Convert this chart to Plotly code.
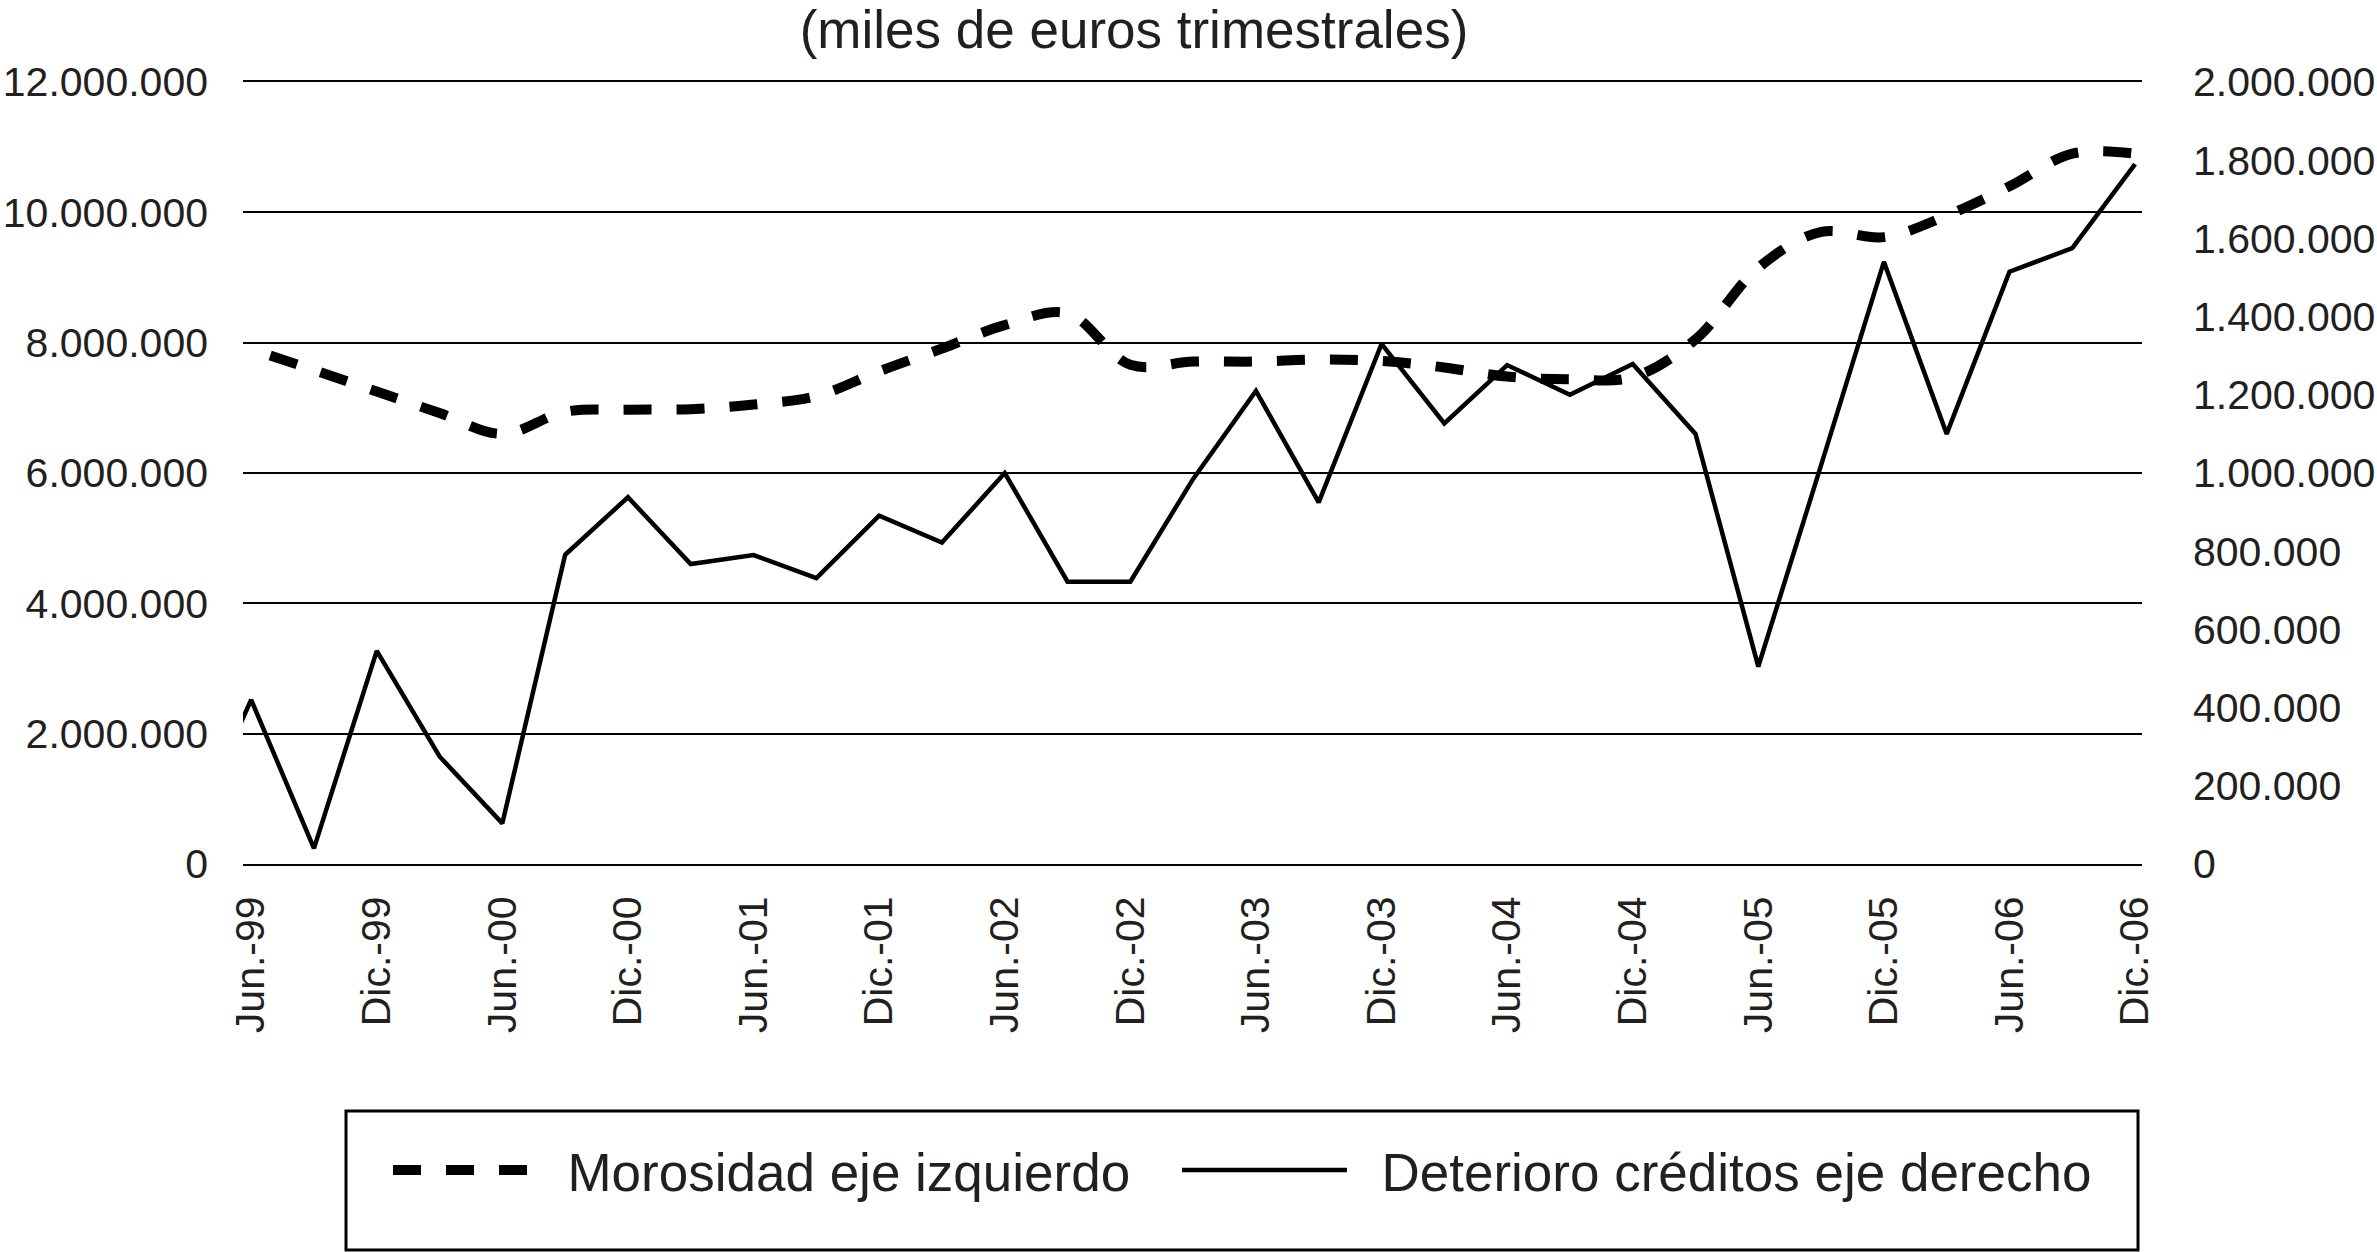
import plotly.graph_objects as go

quarters = [
    "Mar.-99", "Jun.-99", "Sep.-99", "Dic.-99",
    "Mar.-00", "Jun.-00", "Sep.-00", "Dic.-00",
    "Mar.-01", "Jun.-01", "Sep.-01", "Dic.-01",
    "Mar.-02", "Jun.-02", "Sep.-02", "Dic.-02",
    "Mar.-03", "Jun.-03", "Sep.-03", "Dic.-03",
    "Mar.-04", "Jun.-04", "Sep.-04", "Dic.-04",
    "Mar.-05", "Jun.-05", "Sep.-05", "Dic.-05",
    "Mar.-06", "Jun.-06", "Sep.-06", "Dic.-06",
]

tick_labels = [
    "Jun.-99", "Dic.-99", "Jun.-00", "Dic.-00", "Jun.-01", "Dic.-01",
    "Jun.-02", "Dic.-02", "Jun.-03", "Dic.-03", "Jun.-04", "Dic.-04",
    "Jun.-05", "Dic.-05", "Jun.-06", "Dic.-06",
]

# Morosidad (eje izquierdo), miles de euros
morosidad = [
    None, 7900000, 7580000, 7250000,
    6920000, 6600000, 6940000, 6970000,
    6980000, 7050000, 7180000, 7560000,
    7910000, 8270000, 8450000, 7660000,
    7710000, 7710000, 7740000, 7720000,
    7620000, 7480000, 7440000, 7470000,
    8050000, 9150000, 9700000, 9620000,
    9950000, 10400000, 10900000, 10900000,
]

# Deterioro créditos (eje derecho), miles de euros
deterioro = [
    60000, 420000, 40000, 545000,
    275000, 104000, 791000, 938000,
    767000, 790000, 731000, 891000,
    822000, 1000000, 722000, 722000,
    985000, 1210000, 925000, 1330000,
    1127000, 1276000, 1200000, 1279000,
    1100000, 505000, 1020000, 1540000,
    1100000, 1515000, 1575000, 1790000,
]

legend_names = ["Morosidad eje izquierdo", "Deterioro créditos eje derecho"]

FONT = "Liberation Sans, Arial, Helvetica, sans-serif"
TXT = "#231f20"
PAD = "\u00a0\u00a0"

fig = go.Figure()
fig.add_trace(go.Scatter(
    x=quarters, y=morosidad, name=PAD + legend_names[0], mode="lines",
    line=dict(color="black", width=10, dash="0px,20px,28px,5px",
              shape="spline", smoothing=1.0),
    legend="legend",
))
fig.add_trace(go.Scatter(
    x=quarters, y=deterioro, name=PAD + legend_names[1], mode="lines",
    line=dict(color="black", width=4.5),
    yaxis="y2", legend="legend2",
))

L, R, T, B = 243, 2377 - 2142, 82, 1252 - 864
pw = 2377 - L - R
ph = 1252 - T - B

def px_x(p):
    return (p - L) / pw

def px_y(p):
    return (1252 - B - p) / ph

fig.update_layout(
    template="none",
    width=2377, height=1252,
    margin=dict(l=L, r=R, t=T, b=B, pad=0),
    paper_bgcolor="white", plot_bgcolor="white",
    separators=",.",
    font=dict(family=FONT, color=TXT, size=41),
    title=dict(
        text="(miles de euros trimestrales)",
        x=1134 / 2377, xref="container", xanchor="center",
        y=1 - 29 / 1252, yref="container", yanchor="middle",
        font=dict(size=53, family=FONT, color=TXT),
    ),
    xaxis=dict(
        type="category", range=[0.87, 31.11], automargin=False,
        tickmode="array", tickvals=tick_labels, ticktext=tick_labels,
        tickangle=-90, showgrid=False, zeroline=False,
        showline=True, mirror=True, linecolor="black", linewidth=2,
        ticks="", ticklabelstandoff=14, tickfont=dict(size=41, family=FONT, color=TXT),
    ),
    yaxis=dict(
        range=[0, 12000000], dtick=2000000, tick0=0, tickformat=",d",
        automargin=False,
        showgrid=True, gridcolor="black", gridwidth=2,
        zeroline=True, zerolinecolor="black", zerolinewidth=4,
        showline=False, ticks="", ticklabelstandoff=34,
        tickfont=dict(size=41, family=FONT, color=TXT),
    ),
    yaxis2=dict(
        range=[0, 2000000], dtick=200000, tick0=0, tickformat=",d",
        automargin=False,
        overlaying="y", side="right", showgrid=False, zeroline=False,
        showline=False, ticks="", ticklabelstandoff=50,
        tickfont=dict(size=41, family=FONT, color=TXT),
    ),
    showlegend=True,
    legend=dict(
        x=px_x(368), xanchor="left", y=px_y(1170), yanchor="middle",
        orientation="h", itemwidth=160, bgcolor="rgba(0,0,0,0)", borderwidth=0,
        font=dict(size=53, family=FONT, color=TXT),
    ),
    legend2=dict(
        x=px_x(1177), xanchor="left", y=px_y(1170), yanchor="middle",
        orientation="h", itemwidth=165, bgcolor="rgba(0,0,0,0)", borderwidth=0,
        font=dict(size=53, family=FONT, color=TXT),
    ),
    shapes=[dict(
        type="rect", xref="paper", yref="paper",
        x0=px_x(346), x1=px_x(2138), y0=px_y(1250), y1=px_y(1111),
        line=dict(color="black", width=3), fillcolor="rgba(0,0,0,0)",
    )],
)

fig.write_html(
    "out.html",
    config={"displayModeBar": False},
    post_script="document.body.style.margin='0';document.body.style.overflow='hidden';",
)
